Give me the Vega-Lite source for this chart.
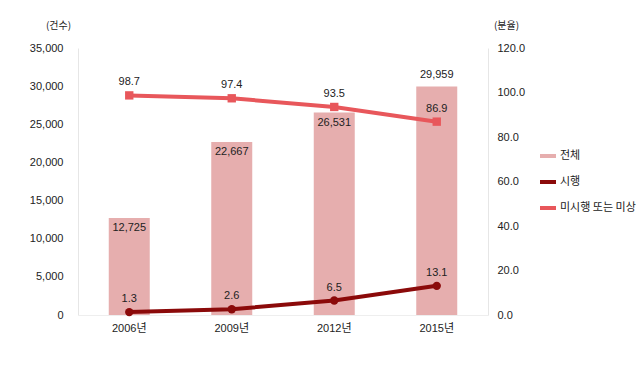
{
  "$schema": "https://vega.github.io/schema/vega-lite/v6.json",
  "autosize": "none",
  "width": 410,
  "height": 267,
  "padding": {"left": 78, "top": 48, "right": 153, "bottom": 50},
  "background": "#ffffff",
  "config": {
    "font": "Liberation Sans, Noto Sans CJK KR",
    "view": {"stroke": null},
    "axis": {"labelFont": "Liberation Sans, Noto Sans CJK KR", "labelFontSize": 11, "labelColor": "#222222", "titleFont": "Noto Sans CJK KR", "titleFontSize": 10, "titleFontWeight": "normal", "titleColor": "#222222", "grid": false, "domainColor": "#e6e6e6", "tickColor": "#e6e6e6", "ticks": false}
  },
  "datasets": {
    "bars": [
      {"year": "2006년", "series": "전체", "count": 12725},
      {"year": "2009년", "series": "전체", "count": 22667},
      {"year": "2012년", "series": "전체", "count": 26531},
      {"year": "2015년", "series": "전체", "count": 29959}
    ],
    "lines": [
      {"year": "2006년", "series": "시행", "value": 1.3},
      {"year": "2009년", "series": "시행", "value": 2.6},
      {"year": "2012년", "series": "시행", "value": 6.5},
      {"year": "2015년", "series": "시행", "value": 13.1},
      {"year": "2006년", "series": "미시행 또는 미상", "value": 98.7},
      {"year": "2009년", "series": "미시행 또는 미상", "value": 97.4},
      {"year": "2012년", "series": "미시행 또는 미상", "value": 93.5},
      {"year": "2015년", "series": "미시행 또는 미상", "value": 86.9}
    ]
  },
  "encoding": {
    "x": {"field": "year", "type": "nominal", "sort": null, "scale": {"paddingInner": 0.6, "paddingOuter": 0.3}, "axis": {"title": null, "labelAngle": 0, "labelPadding": 7, "domainColor": "#eeeeee"}}
  },
  "layer": [
    {
      "data": {"name": "bars"},
      "encoding": {
        "y": {"field": "count", "type": "quantitative", "scale": {"domain": [0, 35000]}, "axis": {"orient": "left", "values": [0, 5000, 10000, 15000, 20000, 25000, 30000, 35000], "format": ",.0f", "labelPadding": 15, "title": "(건수)", "titleAngle": 0, "titleX": -20, "titleY": -23, "titleAlign": "center", "titleBaseline": "middle"}}
      },
      "layer": [
        {"mark": {"type": "bar", "color": "#E6AEAE"}, "encoding": {"color": {"field": "series", "type": "nominal", "scale": {"domain": ["전체", "시행", "미시행 또는 미상"], "range": ["#E6AEAE", "#8B0A0A", "#E8575B"]}, "legend": {"title": null, "orient": "none", "legendX": 460, "legendY": 98, "symbolType": "stroke", "symbolSize": 256, "symbolStrokeWidth": 4, "labelFontSize": 11, "labelFont": "Noto Sans CJK KR", "labelColor": "#222222", "rowPadding": 8, "labelOffset": 2}}}},
        {"transform": [{"filter": "datum.year != '2015년'"}], "mark": {"type": "text", "baseline": "middle", "dy": 10, "fontSize": 11, "color": "#222222"}, "encoding": {"text": {"field": "count", "type": "quantitative", "format": ",.0f"}}},
        {"transform": [{"filter": "datum.year == '2015년'"}], "mark": {"type": "text", "baseline": "middle", "dy": -11, "fontSize": 11, "color": "#222222"}, "encoding": {"text": {"field": "count", "type": "quantitative", "format": ",.0f"}}}
      ]
    },
    {
      "data": {"name": "lines"},
      "encoding": {
        "y": {"field": "value", "type": "quantitative", "scale": {"domain": [0, 120]}, "axis": {"orient": "right", "values": [0, 20, 40, 60, 80, 100, 120], "format": ".1f", "labelPadding": 9, "title": "(분율)", "titleAngle": 0, "titleX": 18, "titleY": -23, "titleAlign": "center", "titleBaseline": "middle"}},
        "color": {"field": "series", "type": "nominal"}
      },
      "layer": [
        {"mark": {"type": "line", "strokeWidth": 4}},
        {"mark": {"type": "point", "filled": true, "opacity": 1}, "encoding": {"shape": {"field": "series", "type": "nominal", "scale": {"domain": ["시행", "미시행 또는 미상"], "range": ["circle", "square"]}, "legend": null}, "size": {"value": 70}}},
        {"mark": {"type": "text", "baseline": "middle", "dy": -13, "fontSize": 11, "color": "#222222"}, "encoding": {"text": {"field": "value", "type": "quantitative", "format": ".1f"}, "color": {"value": "#222222"}}}
      ]
    }
  ],
  "resolve": {"scale": {"y": "independent"}}
}
